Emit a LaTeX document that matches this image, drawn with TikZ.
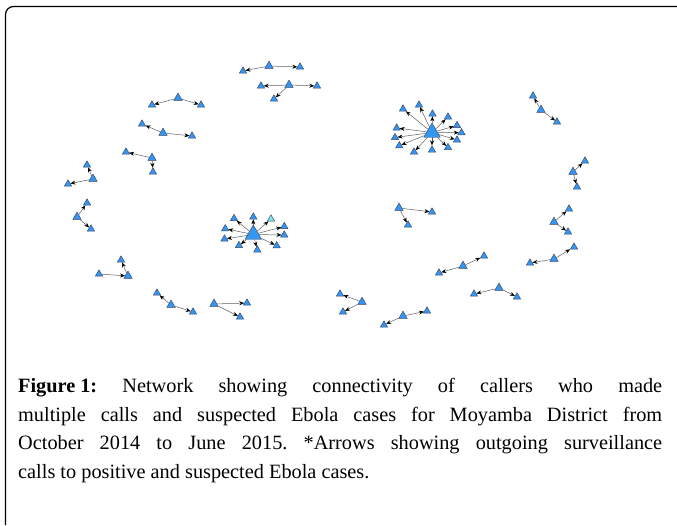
\documentclass[tikz,border=0pt]{standalone}
\usepackage{fontspec}
\setmainfont{Liberation Serif}
\usetikzlibrary{shapes.geometric,arrows.meta}
\definecolor{nblue}{RGB}{51,150,245}
\definecolor{nedge}{RGB}{60,70,95}
\definecolor{ncyan}{RGB}{120,230,225}
\tikzset{
  tri/.style={regular polygon, regular polygon sides=3, minimum size=8.4pt, inner sep=0pt, fill=nblue, draw=nedge, line width=0.45pt},
  mtri/.style={tri, minimum size=9.8pt},
  btri/.style={tri, minimum size=19pt},
  ed/.style={draw=gray!75!black, line width=0.5pt, -{Stealth[black,length=5pt,width=4pt]}},
  frameline/.style={line width=1.2pt, rounded corners=8pt},
  captext/.style={anchor=north west, inner sep=0pt, text width=644pt, align=justify, font=\fontsize{20.3}{28.5}\selectfont\frenchspacing}
}
\begin{document}
\begin{tikzpicture}[x=1pt,y=-1pt]
\useasboundingbox (0,0) rectangle (677,525);
\draw[frameline] (5.5,525) -- (5.5,6.5) -- (677,6.5);

% small clusters: center then leaves
\node[mtri] (a0) at (269,66) {}; \node[tri] (a1) at (243,71) {}; \node[tri] (a2) at (300,67) {};
\node[mtri] (b0) at (289,85) {}; \node[tri] (b1) at (261,86) {}; \node[tri] (b2) at (317,86) {}; \node[tri] (b3) at (274,99) {};
\node[mtri] (c0) at (178,98) {}; \node[tri] (c1) at (152,105) {}; \node[tri] (c2) at (201,105) {};
\node[mtri] (d0) at (163,133) {}; \node[tri] (d1) at (142,124) {}; \node[tri] (d2) at (192,136) {};
\node[mtri] (e0) at (152,158) {}; \node[tri] (e1) at (126,152) {}; \node[tri] (e2) at (153,172) {};
\node[mtri] (f0) at (93,179) {}; \node[tri] (f1) at (87,165) {}; \node[tri] (f2) at (68,184) {};
\node[mtri] (g0) at (77,217) {}; \node[tri] (g1) at (87,203) {}; \node[tri] (g2) at (91,229) {};
\node[mtri] (i0) at (128,276) {}; \node[tri] (i1) at (121,260) {}; \node[tri] (i2) at (99,274) {};
\node[mtri] (j0) at (171,305) {}; \node[tri] (j1) at (157,293) {}; \node[tri] (j2) at (193,312) {};
\node[mtri] (k0) at (214,304) {}; \node[tri] (k1) at (247,303) {}; \node[tri] (k2) at (240,317) {};
\node[mtri] (m0) at (541,110) {}; \node[tri] (m1) at (533,96) {}; \node[tri] (m2) at (557,122) {};
\node[mtri] (n0) at (573,172) {}; \node[tri] (n1) at (585,161) {}; \node[tri] (n2) at (577,187) {};
\node[mtri] (o0) at (399,208) {}; \node[tri] (o1) at (432,212) {}; \node[tri] (o2) at (408,225) {};
\node[mtri] (p0) at (554,222) {}; \node[tri] (p1) at (569,209) {}; \node[tri] (p2) at (568,232) {};
\node[mtri] (q0) at (554,259) {}; \node[tri] (q1) at (574,247) {}; \node[tri] (q2) at (530,263) {};
\node[mtri] (r0) at (463,266) {}; \node[tri] (r1) at (484,256) {}; \node[tri] (r2) at (439,273) {};
\node[mtri] (s0) at (499,288) {}; \node[tri] (s1) at (474,294) {}; \node[tri] (s2) at (517,297) {};
\node[mtri] (t0) at (362,302) {}; \node[tri] (t1) at (340,294) {}; \node[tri] (t2) at (343,312) {};
\node[mtri] (u0) at (403,316) {}; \node[tri] (u1) at (427,311) {}; \node[tri] (u2) at (384,325) {};

\foreach \c in {a,c,d,e,f,g,j,k,m,n,o,p,q,r,s,t,u}{
  \draw[ed] (\c0) -- (\c1);
  \draw[ed] (\c0) -- (\c2);
}
\draw[ed] (b0) -- (b1); \draw[ed] (b0) -- (b2); \draw[ed] (b0) -- (b3);
\draw[ed] (i2) -- (i0); \draw[ed] (i0) -- (i1);

% big hub H
\node[btri] (h0) at (253.3,234.5) {};
\foreach \x/\y [count=\n] in {234/218.5, 253.3/217, 271/219, 284.3/226.5, 284.2/235, 276.7/245.7, 257.3/250, 239/245.5, 224.5/239, 225.2/228.7}{
  \ifnum\n=3
    \node[tri, fill=ncyan] (h\n) at (\x,\y) {};
  \else
    \node[tri] (h\n) at (\x,\y) {};
  \fi
  \draw[ed] (h0) -- (h\n);
}

% big hub L
\node[btri] (l0) at (432,132.5) {};
\foreach \x/\y [count=\n] in {403/109, 419/105, 432.5/114, 448/117, 457/125.5, 461.5/132.7, 457/140, 448/147.5, 432/150, 414/152, 399.3/145.7, 395/137.5, 396.7/128}{
  \node[tri] (l\n) at (\x,\y) {};
  \draw[ed] (l0) -- (l\n);
}

\node[captext] (caption) at (18,378.5) {\textbf{Figure\hspace{5pt}1:} Network showing connectivity of callers who made\linebreak multiple calls and suspected Ebola cases for Moyamba District from\linebreak October 2014 to June 2015. *Arrows showing outgoing surveillance\linebreak calls to positive and suspected Ebola cases.};
\end{tikzpicture}
\end{document}
